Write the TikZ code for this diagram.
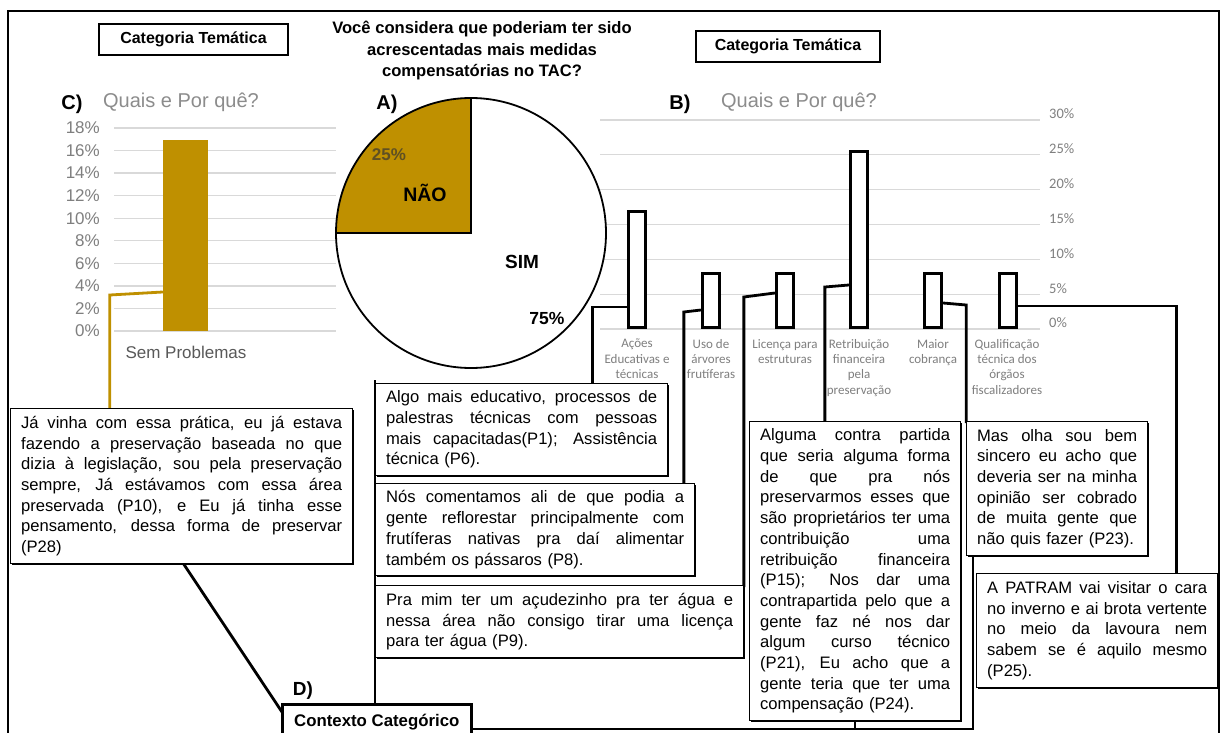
\documentclass[tikz,border=0pt]{standalone}
\usepackage{fontspec}
\setmainfont{Liberation Sans}
\newfontfamily\calib{Carlito}
\usetikzlibrary{shadows}
\definecolor{goldc}{RGB}{191,144,0}
\definecolor{gridc}{RGB}{217,217,217}
\definecolor{axisc}{RGB}{127,127,127}
\definecolor{headc}{RGB}{140,140,140}
\definecolor{catc}{RGB}{89,89,89}
\definecolor{pctc}{RGB}{95,80,35}
% one fully justified line of a quotation box, \qw wide
\newlength\qw
\newcommand\jl[1]{\leavevmode\hbox to\qw{\spaceskip=.278em plus 1fil\relax\xspaceskip=\spaceskip #1}}
\begin{document}
\begin{tikzpicture}[x=1pt,y=-1pt,
  conn/.style={line width=2.8pt},
  goldconn/.style={draw=goldc,line width=2.8pt},
  tbox/.style={draw,line width=1.3pt,fill=white,anchor=north west,inner xsep=10.5pt,inner ysep=2pt,
    font=\fontsize{16.6}{20.7}\selectfont,align=left,
    drop shadow={shadow xshift=1.8pt,shadow yshift=-1.8pt,opacity=1,fill=black}},
  ttl/.style={draw,line width=1.3pt,minimum height=31pt,inner sep=0pt,font=\bfseries\fontsize{16}{19}\selectfont},
  grid/.style={gridc,line width=1.3pt},
  barB/.style={draw,fill=white,line width=3.3pt,minimum width=17pt,inner sep=0pt,anchor=south},
  catlab/.style={font=\calib\fontsize{13}{15.3}\selectfont,text=axisc,align=center,anchor=north,inner sep=0pt},
  yl/.style={font=\fontsize{17}{20}\selectfont,text=axisc,anchor=east,inner sep=0pt},
  ylB/.style={font=\calib\fontsize{14.5}{17}\selectfont,text=axisc,anchor=west,inner sep=0pt},
  head/.style={font=\fontsize{20}{24}\selectfont,text=headc,inner sep=0pt},
  tag/.style={font=\bfseries\fontsize{20}{24}\selectfont,inner sep=0pt}]
\clip (0,0) rectangle (1221,733);
\fill[white] (0,0) rectangle (1221,733);
% outer frame
\draw[line width=1.6pt] (8,11) rectangle (1219,745);

% headings
\node[ttl,minimum width=189pt] (T1) at (193.5,39.5) {Categoria Temática};
\node[ttl,minimum width=184pt] (T2) at (788,46.5) {Categoria Temática};
\node[font=\bfseries\fontsize{16.6}{21.5}\selectfont,align=center] (Q) at (482,51)
  {Você considera que poderiam ter sido\\acrescentadas mais medidas\\compensatórias no TAC?};

% chart C: single category
\node[tag] (lc) at (72,104) {C)};
\node[head] (hc) at (181,102) {Quais e Por quê?};
\foreach \k in {0,...,9} {
  \pgfmathsetmacro\yy{128+22.56*\k}
  \pgfmathtruncatemacro\pp{18-2*\k}
  \draw[grid] (114,\yy) -- (336,\yy);
  \node[yl] (ya\k) at (100,\yy) {\pp\%};
}
\node[fill=goldc,minimum width=45pt,minimum height=191pt,inner sep=0pt,anchor=south] (gbar) at (185.5,331) {};
\node[font=\fontsize{17}{20}\selectfont,text=catc,inner sep=0pt] (sp) at (186,352) {Sem Problemas};

% chart B: categories
\node[tag] (lb) at (680,104) {B)};
\node[head] (hb) at (799,102) {Quais e Por quê?};
\foreach \k in {0,...,6} {
  \pgfmathsetmacro\yy{120+34.83*\k}
  \pgfmathtruncatemacro\pp{30-5*\k}
  \draw[grid] (600,\yy) -- (1040,\yy);
  \node[ylB] (yb\k) at (1049,\yy-6) {\pp\%};
}
\node[barB,minimum height=116pt] (b1) at (637,329) {};
\node[barB,minimum height=54pt]  (b2) at (711,329) {};
\node[barB,minimum height=54pt]  (b3) at (785,329) {};
\node[barB,minimum height=176pt] (b4) at (859,329) {};
\node[barB,minimum height=54pt]  (b5) at (933,329) {};
\node[barB,minimum height=54pt]  (b6) at (1008,329) {};
\node[catlab] (c1) at (637,339) {Ações\\Educativas e\\técnicas};
\node[catlab] (c2) at (711,339) {Uso de\\árvores\\frutíferas};
\node[catlab] (c3) at (785,339) {Licença para\\estruturas};
\node[catlab] (c4) at (859,339) {Retribuição\\financeira\\pela\\preservação};
\node[catlab] (c5) at (933,339) {Maior\\cobrança};
\node[catlab] (c6) at (1007,339) {Qualificação\\técnica dos\\órgãos\\fiscalizadores};

% chart A: pie
\node[tag] (la) at (387,104) {A)};
\node[circle,fill=white,minimum size=270pt,inner sep=0pt] (pie) at (471,233) {};
\begin{scope}
  \clip (471,233) rectangle (320,90);
  \fill[goldc] (pie.center) circle[radius=135];
\end{scope}
\draw[line width=1.8pt] (pie.center) circle[radius=135];
\draw[line width=1.8pt] (pie.north) -- (pie.center) -- (pie.west);
\node[font=\bfseries\fontsize{17}{20}\selectfont,text=pctc,inner sep=0pt] (p25) at (389,155) {25\%};
\node[font=\bfseries\fontsize{19.5}{23}\selectfont,inner sep=0pt] (nao) at (425,193) {NÃO};
\node[font=\bfseries\fontsize{19}{23}\selectfont,inner sep=0pt] (sim) at (522,262) {SIM};
\node[font=\bfseries\fontsize{17.5}{21}\selectfont,inner sep=0pt] (p75) at (547,318) {75\%};

% connectors from the bars
\draw[goldconn] ([yshift=39pt]gbar.south west) -- ++(-53,3) coordinate (tg) -- (tg |- 0,410);
\draw[conn] ([yshift=22pt]b1.south west) -- ++(-34,0) coordinate (t1) -- (t1 |- 0,385);
\draw[conn] ([yshift=19pt]b2.south west) -- ++(-17,2) coordinate (t2) -- (t2 |- 0,485);
\draw[conn] ([yshift=36pt]b3.south west) -- ++(-31,4) coordinate (t3) -- (t3 |- 0,587);
\draw[conn] ([yshift=44pt]b4.south west) -- ++(-24,2) coordinate (t4) -- (t4 |- 0,423);
\draw[conn] ([yshift=26pt]b5.south east) -- ++(23,2) coordinate (t5) -- (t5 |- 0,423);
\draw[conn] ([yshift=23pt]b6.south east) -- ++(158,0) coordinate (t6) -- (t6 |- 0,575);

% bottom connectors towards the category context
\coordinate (busR) at (973,729);
\coordinate (busM) at (855,729);
\draw[conn] (busR |- 0,550) -- (busR) -- (470,729);
\draw[conn] (busM |- 0,715) -- (busM);
\draw[conn] (375,380) -- (375,705);
\draw[conn] (181,560) -- (282,712);

% quotation boxes
\node[tbox,text width=321pt,minimum height=155pt] (J) at (10,408) {\setlength\qw{321pt}%
\jl{Já vinha com essa prática, eu já estava}\\
\jl{fazendo a preservação baseada no que}\\
\jl{dizia à legislação, sou pela preservação}\\
\jl{sempre, Já estávamos com essa área}\\
\jl{preservada (P10), e Eu já tinha esse}\\
\jl{pensamento, dessa forma de preservar}\\
(P28)};
\node[tbox,text width=271pt,minimum height=92pt] (A1) at (375,383) {\setlength\qw{271pt}%
\jl{Algo mais educativo, processos de}\\
\jl{palestras técnicas com pessoas}\\
\jl{mais capacitadas(P1); Assistência}\\
técnica (P6).};
\node[tbox,text width=298pt,minimum height=92pt] (A2) at (375,483) {\setlength\qw{298pt}%
\jl{Nós comentamos ali de que podia a}\\
\jl{gente reflorestar principalmente com}\\
\jl{frutíferas nativas pra daí alimentar}\\
também os pássaros (P8).};
\node[tbox,text width=347pt,minimum height=72pt] (A3) at (375,585) {\setlength\qw{347pt}%
\jl{Pra mim ter um açudezinho pra ter água e}\\
\jl{nessa área não consigo tirar uma licença}\\
para ter água (P9).};
\node[tbox,text width=190pt,minimum height=299pt] (R) at (749,421) {\setlength\qw{190pt}%
\jl{Alguma contra partida}\\
\jl{que seria alguma forma}\\
\jl{de que pra nós}\\
\jl{preservarmos esses que}\\
\jl{são proprietários ter uma}\\
\jl{contribuição uma}\\
\jl{retribuição financeira}\\
\jl{(P15); Nos dar uma}\\
\jl{contrapartida pelo que a}\\
\jl{gente faz né nos dar}\\
\jl{algum curso técnico}\\
\jl{(P21), Eu acho que a}\\
\jl{gente teria que ter uma}\\
compensação (P24).};
\node[tbox,text width=160pt,minimum height=134pt] (M) at (966,421) {\setlength\qw{160pt}%
\jl{Mas olha sou bem}\\
\jl{sincero eu acho que}\\
\jl{deveria ser na minha}\\
\jl{opinião ser cobrado}\\
\jl{de muita gente que}\\
não quis fazer (P23).};
\node[tbox,text width=220pt,minimum height=114pt] (P) at (976,573) {\setlength\qw{220pt}%
\jl{A PATRAM vai visitar o cara}\\
\jl{no inverno e ai brota vertente}\\
\jl{no meio da lavoura nem}\\
\jl{sabem se é aquilo mesmo}\\
(P25).};

% category context
\node[tag,font=\bfseries\fontsize{19}{23}\selectfont] (ld) at (303,691) {D)};
\node[draw,line width=2.6pt,fill=white,anchor=north west,minimum width=189pt,minimum height=36pt,inner sep=0pt,
  font=\bfseries\fontsize{16.8}{20}\selectfont] (D) at (281,703) {Contexto Categórico};
\end{tikzpicture}
\end{document}
